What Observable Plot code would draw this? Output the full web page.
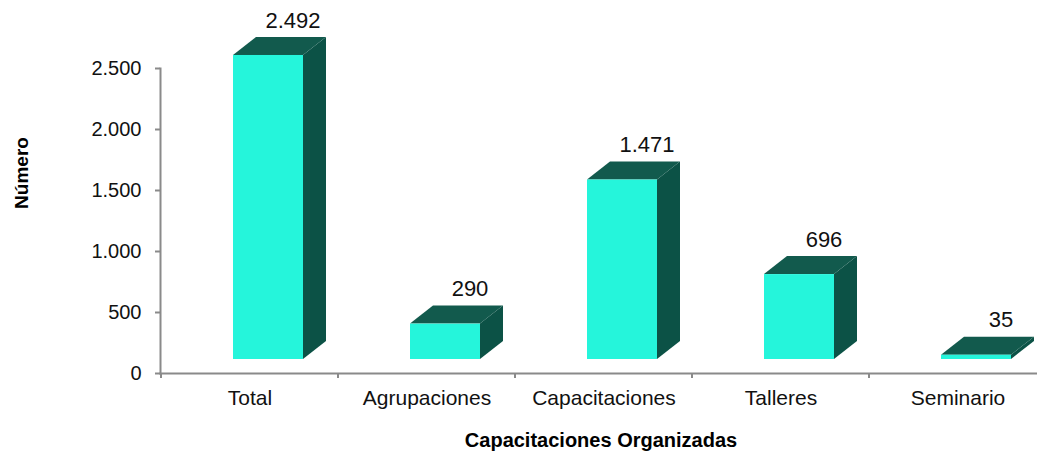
<!DOCTYPE html>
<html>
<head>
<meta charset="utf-8">
<script src="https://cdn.jsdelivr.net/npm/d3@7"></script>
<script src="https://cdn.jsdelivr.net/npm/@observablehq/plot@0.6"></script>
<style>
  html, body { margin: 0; padding: 0; background: #fff; overflow: hidden; }
  svg { display: block; }
</style>
</head>
<body>
<div id="chart"></div>
<script>
// ---- data ----
const categories = ["Total", "Agrupaciones", "Capacitaciones", "Talleres", "Seminario"];
const counts = [2492, 290, 1471, 696, 35];
const yTicks = [0, 500, 1000, 1500, 2000, 2500];
const xTitle = "Capacitaciones Organizadas";
const yTitle = "Número";

const data = categories.map((c, i) => ({cat: c, value: counts[i]}));

// ---- styles ----
const FONT = "'Liberation Sans', Arial, Helvetica, sans-serif";
const FRONT = "#25F5DB";
const SIDE = "#0C5246";
const TOP = "#125A4D";
const AXIS = "#8a8a8a";
const depthX = 23, depthY = 18, lift = 14;
const insetL = 72, insetR = 35;

const loc = d3.formatLocale({decimal: ",", thousands: ".", grouping: [3], currency: ["", ""]});
const fmt = loc.format(",d");

function bandwidthOf(x) {
  return typeof x.bandwidth === "function" ? x.bandwidth() : x.bandwidth;
}

function bars3d(index, scales) {
  const g = d3.create("svg:g");
  const x = scales.x, y = scales.y;
  const bw = bandwidthOf(x);
  for (const i of index) {
    const d = data[i];
    const x0 = x(d.cat);
    const xl = x0 + insetL, xr = x0 + bw - insetR;
    const yt = y(d.value) - lift, yb = y(0) - lift;
    g.append("path")
      .attr("d", `M${xr},${yt}L${xr + depthX},${yt - depthY}L${xr + depthX},${yb - depthY}L${xr},${yb}Z`)
      .attr("fill", SIDE);
    g.append("path")
      .attr("d", `M${xl},${yt}L${xl + depthX},${yt - depthY}L${xr + depthX},${yt - depthY}L${xr},${yt}Z`)
      .attr("fill", TOP);
    g.append("rect")
      .attr("x", xl).attr("y", yt)
      .attr("width", xr - xl).attr("height", Math.max(0, yb - yt))
      .attr("fill", FRONT);
  }
  return g.node();
}

function bandTicks(index, scales) {
  const g = d3.create("svg:g");
  const x = scales.x, y = scales.y;
  const bw = bandwidthOf(x);
  const y0 = y(0);
  const xs = categories.map(c => x(c));
  xs.push(x(categories[categories.length - 1]) + bw);
  for (const xv of xs) {
    g.append("line")
      .attr("x1", xv).attr("x2", xv)
      .attr("y1", y0).attr("y2", y0 + 5)
      .attr("stroke", AXIS).attr("stroke-width", 2);
  }
  return g.node();
}

const chart = Plot.plot({
  width: 1037,
  height: 452,
  marginLeft: 160,
  marginRight: 0,
  marginTop: 68,
  marginBottom: 79,
  style: {fontFamily: FONT, fontSize: "20px", color: "#111", background: "#fff"},
  x: {domain: categories, range: [160, 1047], padding: 0},
  y: {domain: [0, 2500]},
  marks: [
    Plot.frame({anchor: "left", stroke: AXIS, strokeWidth: 2}),
    Plot.frame({anchor: "bottom", stroke: AXIS, strokeWidth: 2}),
    Plot.axisY({ticks: yTicks, tickFormat: fmt, tickSize: 5, tickPadding: 14, stroke: AXIS, strokeWidth: 2, fontSize: 20, label: null}),
    Plot.axisX({tickSize: 0, tickPadding: 17, fontSize: 21, label: null}),
    Plot.barY(data, {x: "cat", y: "value", render: bandTicks}),
    Plot.barY(data, {x: "cat", y: "value", render: bars3d}),
    Plot.text(data, {x: "cat", y: "value", text: d => fmt(d.value), dx: 43, dy: -49, lineAnchor: "middle", fontSize: 22, fill: "#111"}),
    Plot.text([xTitle], {frameAnchor: "bottom", dx: 2, dy: 67, lineAnchor: "middle", textAnchor: "middle", fontSize: 20, fontWeight: "bold", fill: "#000", letterSpacing: "0.5px"}),
    Plot.text([yTitle], {frameAnchor: "left", dx: -139, dy: -48, rotate: -90, lineAnchor: "middle", textAnchor: "middle", fontSize: 19, fontWeight: "bold", fill: "#000"})
  ]
});

document.getElementById("chart").appendChild(chart);
</script>
</body>
</html>
